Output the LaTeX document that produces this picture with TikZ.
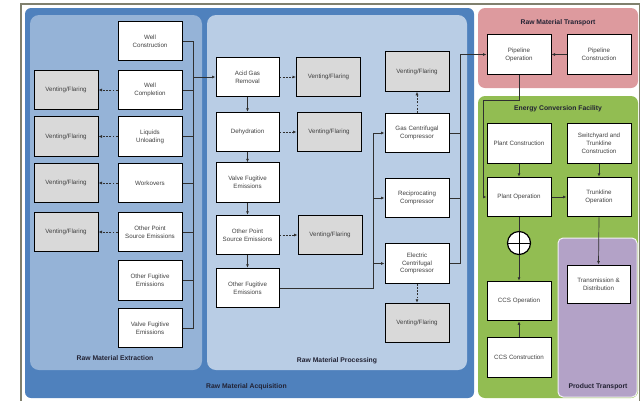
\documentclass[tikz,border=0pt]{standalone}
\usepackage{fontspec}
\setmainfont{Liberation Sans}
\usetikzlibrary{arrows.meta,calc}
\definecolor{framecol}{HTML}{80806E}
\definecolor{acqblue}{HTML}{4F81BD}
\definecolor{extblue}{HTML}{95B3D7}
\definecolor{problue}{HTML}{B9CDE5}
\definecolor{transpink}{HTML}{DD9A9E}
\definecolor{ecfgreen}{HTML}{92BD52}
\definecolor{prodpurple}{HTML}{B3A2C7}
\definecolor{ventgray}{HTML}{D9D9D9}
\definecolor{boxtext}{HTML}{404040}
\definecolor{labeltext}{HTML}{222233}
\definecolor{linecol}{HTML}{303030}
\tikzset{
  box/.style={draw=black, line width=1pt, fill=white, minimum width=64pt, minimum height=39.5pt,
    inner sep=1pt, align=center, text=boxtext, font=\fontsize{6.2}{7.8}\selectfont},
  vent/.style={box, fill=ventgray},
  panellabel/.style={font=\fontsize{6.8}{8}\selectfont\bfseries, text=labeltext, inner sep=0pt},
  conn/.style={draw=linecol, line width=0.7pt},
  arr/.style={conn, -{Latex[length=3.5pt,width=3pt]}},
  darr/.style={draw=linecol, line width=0.7pt, dash pattern=on 1.8pt off 1.4pt, -{Latex[length=3.5pt,width=3pt]}}
}
\begin{document}
\begin{tikzpicture}[x=1pt,y=-1pt]
\useasboundingbox (0,0) rectangle (642,400);
% frame
\draw[framecol, line width=1.6pt] (21,401) -- (21,4) -- (639.5,4) -- (639.5,401);
% panels
\fill[acqblue, rounded corners=6pt] (25,8) rectangle (474,398);
\fill[extblue, rounded corners=9pt] (30,15) rectangle (202,370);
\fill[problue, rounded corners=9pt] (207,15) rectangle (467,370);
\fill[transpink, rounded corners=7pt] (478,8) rectangle (638,88);
\fill[ecfgreen, rounded corners=7pt] (478,96) rectangle (638,398);
\filldraw[fill=prodpurple, draw=white!85!prodpurple, line width=1pt, rounded corners=5pt] (558,238) rectangle (637,397);
% panel labels
\node[panellabel] (lext) at (115,358) {Raw Material Extraction};
\node[panellabel] (lpro) at (337,361) {Raw Material Processing};
\node[panellabel, anchor=west] (lacq) at (206,387) {Raw Material Acquisition};
\node[panellabel] (ltra) at (558,23) {Raw Material Transport};
\node[panellabel] (lecf) at (558,109) {Energy Conversion Facility};
\node[panellabel] (lprod) at (598,387) {Product Transport};
% extraction
\node[box] (wc) at (150,41) {Well\\Construction};
\node[box] (wcomp) at (150,90) {Well\\Completion};
\node[box] (lu) at (150,136.5) {Liquids\\Unloading};
\node[box] (wo) at (150,183) {Workovers};
\node[box] (ops) at (150,232) {Other Point\\Source Emissions};
\node[box] (ofe) at (150,280.5) {Other Fugitive\\Emissions};
\node[box] (vfe) at (150,328) {Valve Fugitive\\Emissions};
\node[vent] (v1) at (66,90) {Venting/Flaring};
\node[vent] (v2) at (66,136.5) {Venting/Flaring};
\node[vent] (v3) at (66,183) {Venting/Flaring};
\node[vent] (v4) at (66,232) {Venting/Flaring};
% processing
\node[box, minimum width=63pt] (agr) at (247.5,77) {Acid Gas\\Removal};
\node[box, minimum width=63pt] (dehy) at (247.5,132) {Dehydration};
\node[box, minimum width=63pt] (pvfe) at (247.5,182.5) {Valve Fugitive\\Emissions};
\node[box, minimum width=63pt] (pops) at (247.5,235) {Other Point\\Source Emissions};
\node[box, minimum width=63pt] (pofe) at (247.5,288) {Other Fugitive\\Emissions};
\node[vent] (va) at (328.5,77) {Venting/Flaring};
\node[vent] (vd) at (329,132) {Venting/Flaring};
\node[vent] (vp) at (330,235) {Venting/Flaring};
\node[vent] (vt) at (417,71.5) {Venting/Flaring};
\node[box] (gcc) at (417,133) {Gas Centrifugal\\Compressor};
\node[box] (rc) at (417,198) {Reciprocating\\Compressor};
\node[box] (ecc) at (417,263.5) {Electric\\Centrifugal\\Compressor};
\node[vent] (vb) at (417,323) {Venting/Flaring};
% transport / energy
\node[box] (po) at (519,54.5) {Pipeline\\Operation};
\node[box] (pcon) at (599,54.5) {Pipeline\\Construction};
\node[box] (plc) at (519,143.5) {Plant Construction};
\node[box] (sw) at (599,143.5) {Switchyard and\\Trunkline\\Construction};
\node[box] (pop) at (519,197) {Plant Operation};
\node[box] (tr) at (599,197) {Trunkline\\Operation};
\node[circle, draw=black, line width=1.2pt, fill=white, minimum size=23pt, inner sep=0pt,
  path picture={\draw[line width=1pt] (path picture bounding box.north) -- (path picture bounding box.south)
  (path picture bounding box.west) -- (path picture bounding box.east);}] (sum) at (519,243) {};
\node[box] (ccso) at (519,301) {CCS Operation};
\node[box] (ccsc) at (519,357.5) {CCS Construction};
\node[box, minimum width=63pt, minimum height=38pt] (td) at (598.5,284) {Transmission \&\\Distribution};
% coordinates
\coordinate (bx) at (193,0);
\coordinate (lx) at (373,0);
\coordinate (rx) at (460,0);
\coordinate (pj1) at (519,100);
\coordinate (pj2) at (483,100);
% extraction connectors
\draw[conn] (wc.east) -- (wc.east -| bx) -- (vfe.east -| bx) -- (vfe.east);
\foreach \n in {wcomp,lu,wo,ops,ofe} { \draw[conn] (\n.east) -- (\n.east -| bx); }
\draw[arr] (agr.west -| bx) -- (agr.west);
\draw[darr] (wcomp.west) -- (v1.east);
\draw[darr] (lu.west) -- (v2.east);
\draw[darr] (wo.west) -- (v3.east);
\draw[darr] (ops.west) -- (v4.east);
% processing connectors
\draw[arr] (agr.south) -- (dehy.north);
\draw[arr] (dehy.south) -- (pvfe.north);
\draw[arr] (pvfe.south) -- (pops.north);
\draw[arr] (pops.south) -- (pofe.north);
\draw[darr] (agr.east) -- (va.west);
\draw[darr] (dehy.east) -- (vd.west);
\draw[darr] (pops.east) -- (vp.west);
\draw[conn] (pofe.east) -- (pofe.east -| lx) -- (gcc.west -| lx);
\draw[arr] (gcc.west -| lx) -- (gcc.west);
\draw[arr] (rc.west -| lx) -- (rc.west);
\draw[arr] (ecc.west -| lx) -- (ecc.west);
\draw[darr] (gcc.north) -- (vt.south);
\draw[darr] (ecc.south) -- (vb.north);
\draw[conn] (ecc.east) -- (ecc.east -| rx) -- (po.west -| rx);
\draw[conn] (gcc.east) -- (gcc.east -| rx);
\draw[conn] (rc.east) -- (rc.east -| rx);
\draw[arr] (po.west -| rx) -- (po.west);
% transport / energy connectors
\draw[arr] (pcon.west) -- (po.east);
\draw[arr] (po.south) -- (pj1) -- (pj2) -- (pj2 |- pop.west) -- (pop.west);
\draw[arr] (plc.south) -- (pop.north);
\draw[arr] (sw.south) -- (tr.north);
\draw[arr] (pop.east) -- (tr.west);
\draw[conn] (pop.south) -- (sum.north);
\draw[arr] (sum.south) -- (ccso.north);
\draw[arr] (ccsc.north) -- (ccso.south);
\draw[arr] (tr.south) -- (td.north);
\end{tikzpicture}
\end{document}
